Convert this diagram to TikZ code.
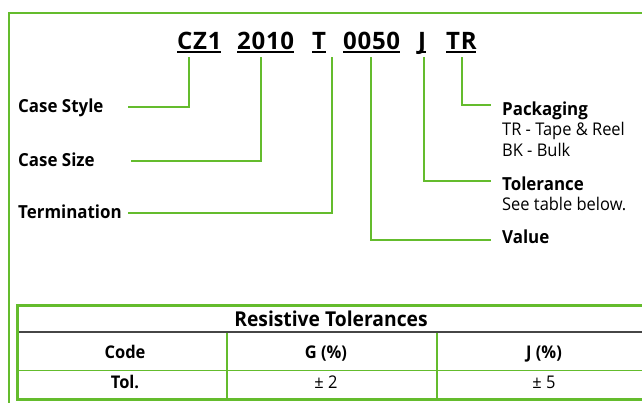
\documentclass[tikz,border=0pt]{standalone}
\usepackage{fontspec}
\setmainfont{Open Sans}
\newfontfamily\codefont[LetterSpace=3]{Open Sans}
\newfontfamily\lblfont[FakeStretch=0.94]{Open Sans}
\definecolor{lgreen}{RGB}{100,188,45}
\definecolor{sepgray}{RGB}{70,70,70}
\tikzset{
  leader/.style={draw=lgreen, line width=1.2pt},
  codetxt/.style={font=\codefont\fontsize{24}{24}\selectfont\bfseries, inner sep=0pt, anchor=base west},
  lbl/.style={font=\lblfont\fontsize{18}{18}\selectfont\bfseries, inner sep=0pt, anchor=base west},
  desc/.style={font=\lblfont\fontsize{17.5}{17.5}\selectfont, inner sep=0pt, anchor=base west},
  cellb/.style={font=\lblfont\fontsize{17.5}{17.5}\selectfont\bfseries, inner sep=0pt, anchor=base},
  cellr/.style={font=\lblfont\fontsize{17.5}{17.5}\selectfont, inner sep=0pt, anchor=base},
  hdrtxt/.style={font=\lblfont\fontsize{20.5}{20.5}\selectfont\bfseries, inner sep=0pt, anchor=base},
  uline/.style={draw=black, line width=1.4pt}
}
\begin{document}
\begin{tikzpicture}[x=1pt,y=-1pt]
\path[use as bounding box, fill=white] (0,0) rectangle (642,402);
\clip (0,0) rectangle (642,402);
% outer frame
\draw[draw=lgreen, line width=2pt] (9,13) rectangle (660,420);
% code letters
\node[codetxt] (cz) at (177,49) {CZ1};
\node[codetxt] (sz) at (237,49) {2010};
\node[codetxt] (tm) at (312,49) {T};
\node[codetxt] (vl) at (343,49) {0050};
\node[codetxt] (tl) at (418,49) {J};
\node[codetxt] (pk) at (446,49) {TR};
\foreach \n in {cz,sz,tm,vl,tl,pk}{
  \draw[uline] ([yshift=-3pt]\n.base west) -- ([yshift=-3pt,xshift=-0.5pt]\n.base east);
}
% labels left
\node[lbl] (cs) at (18,112) {Case Style};
\node[lbl] (csz) at (18,166) {Case Size};
\node[lbl] (ter) at (18,218) {Termination};
% labels right
\node[lbl] (pkl) at (502,115) {Packaging};
\node[desc] (pk1) at (502,135) {TR - Tape \& Reel};
\node[desc] (pk2) at (502,156) {BK - Bulk};
\node[lbl] (tol) at (502,190) {Tolerance};
\node[desc] (tol1) at (502,210) {See table below.};
\node[lbl] (val) at (502,243) {Value};
% leader coordinates
\coordinate (c1t) at (189,57); \coordinate (c1b) at (189,107); \coordinate (c1e) at (128,107);
\coordinate (c2t) at (261,57); \coordinate (c2b) at (261,161); \coordinate (c2e) at (131,161);
\coordinate (c3t) at (332,57); \coordinate (c3b) at (332,213); \coordinate (c3e) at (128,213);
\coordinate (c4t) at (371,57); \coordinate (c4b) at (371,240); \coordinate (c4e) at (491,240);
\coordinate (c5t) at (424,57); \coordinate (c5b) at (424,181); \coordinate (c5e) at (491,181);
\coordinate (c6t) at (462,57); \coordinate (c6b) at (462,105); \coordinate (c6e) at (491,105);
\draw[leader] (c1t) -- (c1b) -- (c1e);
\draw[leader] (c2t) -- (c2b) -- (c2e);
\draw[leader] (c3t) -- (c3b) -- (c3e);
\draw[leader] (c4t) -- (c4b) -- (c4e);
\draw[leader] (c5t) -- (c5b) -- (c5e);
\draw[leader] (c6t) -- (c6b) -- (c6e);
% table
\coordinate (tA) at (17,305);
\coordinate (tB) at (646,399);
\draw[draw=lgreen, line width=1pt] (17,370) -- (646,370);
\draw[draw=lgreen, line width=2pt] (227,332) -- (227,399);
\draw[draw=lgreen, line width=2pt] (437,332) -- (437,399);
\draw[draw=sepgray, line width=1.5pt] (17,332) -- (646,332);
\draw[draw=lgreen, line width=3pt] (tA) rectangle (tB);
\node[hdrtxt] (hdr) at (331,326) {Resistive Tolerances};
\node[cellb] (h1) at (125,358) {Code};
\node[cellb] (h2) at (326,358) {G (\%)};
\node[cellb] (h3) at (544,358) {J (\%)};
\node[cellb] (r1) at (125,388) {Tol.};
\node[cellr] (r2) at (326,388) {± 2};
\node[cellr] (r3) at (544,388) {± 5};
\end{tikzpicture}
\end{document}
